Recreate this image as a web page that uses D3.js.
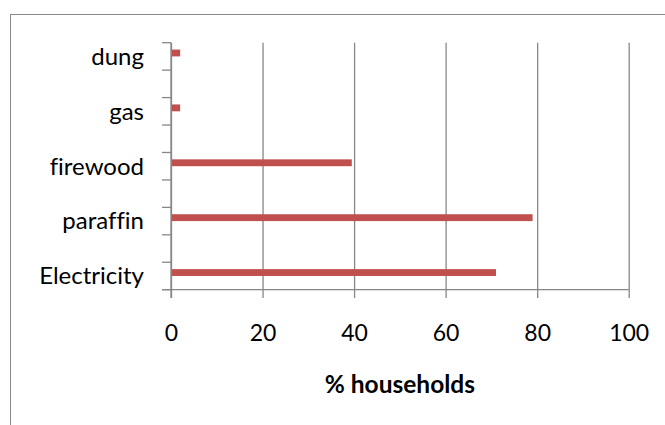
<!DOCTYPE html>
<html>
<head>
<meta charset="utf-8">
<script src="https://cdn.jsdelivr.net/npm/d3@7"></script>
<style>
  html, body { margin: 0; padding: 0; background: #fff; }
  svg { display: block; }
  text { font-family: Lato, "Open Sans", sans-serif; fill: #000; font-variant-ligatures: none; font-feature-settings: "liga" 0, "clig" 0; }
</style>
</head>
<body>
<script>
const categories = ["Electricity", "paraffin", "firewood", "gas", "dung"];
const values = [71, 79, 39.5, 2, 2];
const xTicks = [0, 20, 40, 60, 80, 100];
const axisTitle = "% households";

(function () {
const W = 665, H = 425;
const pLeft = 171, pRight = 628.7, pTop = 42.7, pBottom = 289.7, tickBottom = 298;
const gridColor = "#878787";

const svg = d3.select("body").append("svg").attr("width", W).attr("height", H);

svg.append("rect")
  .attr("x", 10.5).attr("y", 14.5)
  .attr("width", 660).attr("height", 420)
  .attr("fill", "none").attr("stroke", "#898989").attr("stroke-width", 1);

const x = d3.scaleLinear().domain([0, 100]).range([pLeft, pRight]);
const y = d3.scaleBand().domain(categories).range([pBottom, pTop]).paddingInner(0.5).paddingOuter(0);

// vertical gridlines + x tick labels
const xAxis = d3.axisBottom(x).tickValues(xTicks)
  .tickSizeInner(-(tickBottom - pTop)).tickSizeOuter(0).tickPadding(26.5);
const gx = svg.append("g").attr("transform", `translate(0,${tickBottom})`).call(xAxis);
gx.select(".domain").remove();
gx.selectAll(".tick line").attr("stroke", gridColor).attr("stroke-width", 1.3);
gx.selectAll(".tick text").style("font-size", "23px");

// y axis labels
const yAxis = d3.axisLeft(y).tickSize(0).tickPadding(27);
const gy = svg.append("g").attr("transform", `translate(${pLeft},0)`).call(yAxis);
gy.select(".domain").remove();
gy.selectAll(".tick text").style("font-size", "24px").attr("dy", "0.35em");

// y tick marks at band edges
const edges = [];
categories.forEach(c => { edges.push(y(c)); edges.push(y(c) + y.bandwidth()); });
svg.append("g").selectAll("line").data(edges).join("line")
  .attr("x1", pLeft - 9).attr("x2", pLeft)
  .attr("y1", d => d).attr("y2", d => d)
  .attr("stroke", gridColor).attr("stroke-width", 1.3);

// axis lines
svg.append("line").attr("x1", pLeft).attr("x2", pLeft).attr("y1", pTop).attr("y2", tickBottom)
  .attr("stroke", gridColor).attr("stroke-width", 1.3);
svg.append("line").attr("x1", pLeft - 9).attr("x2", pRight).attr("y1", pBottom).attr("y2", pBottom)
  .attr("stroke", gridColor).attr("stroke-width", 1.3);

// bars
const bw = y.bandwidth();
svg.append("g").selectAll("rect").data(categories).join("rect")
  .attr("x", x(0) + 1)
  .attr("y", c => y(c) + bw * 0.25)
  .attr("width", (c, i) => x(values[i]) - x(0) - 1)
  .attr("height", bw * 0.25)
  .attr("fill", "#C0504D");

// axis title
svg.append("text")
  .attr("x", (pLeft + pRight) / 2).attr("y", 393)
  .attr("text-anchor", "middle")
  .style("font-size", "24.5px").style("font-weight", "bold")
  .text(axisTitle);
})();
</script>
</body>
</html>
